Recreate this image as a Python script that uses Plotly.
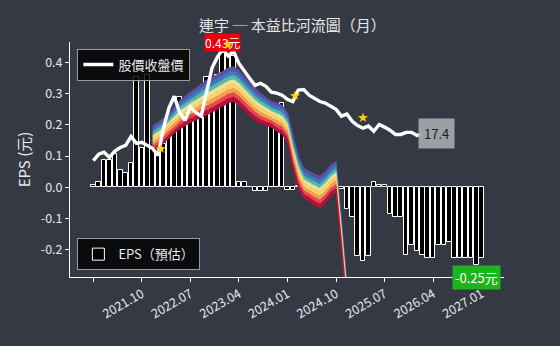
import plotly.graph_objects as go

# ---------------- data ----------------
months = [f"{y}.{m:02d}" for y in range(2021, 2028) for m in range(1, 13)][:73]  # 2021.01 .. 2027.01

eps = [0.008, 0.018, 0.086, 0.086, 0.108, 0.056, 0.047, 0.079, 0.355, 0.127,
       0.36, 0.127, 0.12, 0.14, 0.16, 0.19, 0.29, 0.26, 0.25, 0.27,
       0.29, 0.355, 0.31, 0.36, 0.43, 0.425, 0.42, 0.016, 0.016, 0.002,
       -0.011, -0.013, -0.013, 0.258, 0.247, 0.27, -0.01, -0.01, 0.004, 0.004,
       0.003, 0.004, 0.004, 0.008, 0.004, 0.004, -0.004, -0.07, -0.095, -0.22,
       -0.237, -0.22, 0.016, 0.008, 0.008, -0.086, -0.095, -0.095, -0.217, -0.185,
       -0.204, -0.217, -0.228, -0.228, -0.185, -0.185, -0.175, -0.228, -0.228, -0.228,
       -0.228, -0.25, -0.228]

price = [12.3, 13.5, 13.9, 12.9, 14.1, 14.8, 15.2, 16.9, 15.6, 15.8,
         15.2, 14.6, 13.3, 18.5, 22.3, 24.6, 21.5, 20.0, 22.5, 21.5,
         20.8, 25.8, 30.0, 32.1, 33.6, 32.3, 33.2, 30.9, 29.4, 28.0,
         26.7, 27.1, 26.5, 25.4, 25.2, 24.8, 24.0, 23.6, 25.8, 25.9,
         24.8, 24.2, 23.6, 23.3, 22.7, 22.1, 20.8, 21.2, 19.8, 19.0,
         18.5, 18.9, 17.9, 19.2, 18.7, 18.1, 17.3, 17.3, 17.7, 17.7,
         17.1, 17.4]

river_start = 11  # month index where the PE river begins
river_top = [18.9, 19.6, 20.4, 21.3, 22.5, 23.8, 24.6, 25.4, 26.1, 26.9,
             27.7, 28.2, 28.8, 29.4, 30.0, 30.3, 29.6, 28.4, 27.3, 26.1,
             25.2, 24.4, 23.6, 23.3, 22.9, 21.5, 17.1, 13.3, 10.8, 10.2,
             9.7, 9.3, 10.2, 11.4, 12.2, 1.2, -10.6]
river_bottom = [13.9, 14.6, 15.6, 16.6, 17.5, 18.3, 19.0, 19.6, 20.0, 20.6,
                21.0, 21.5, 22.1, 22.7, 23.3, 23.6, 22.9, 21.9, 20.8, 20.0,
                19.4, 19.0, 18.7, 17.9, 17.3, 15.8, 10.8, 7.0, 5.1, 4.5,
                3.7, 3.2, 4.1, 5.5, 6.2, -4.5, -16.4]
band_colors = ["#5e4fa2", "#3a7cc0", "#56b8ad", "#e8e49a",
               "#fdd36a", "#f9a04e", "#e8474f", "#b3123f"]

star_x = [12.46, 24.88, 37.39, 50.06]
star_y = [14.6, 34.6, 24.8, 20.5]

tick_labels = ["2021.01", "2021.10", "2022.07", "2023.04", "2024.01",
               "2024.10", "2025.07", "2026.04", "2027.01"]
shown_labels = ["", "2021.10", "2022.07", "2023.04", "2024.01",
                "2024.10", "2025.07", "2026.04", "2027.01"]
y_ticks = [-0.2, -0.1, 0.0, 0.1, 0.2, 0.3, 0.4]

# ---------------- figure ----------------
BG = "#343943"
FONT = "Noto Sans CJK TC, Noto Sans, DejaVu Sans, sans-serif"
TXT = "#e8e8e8"
x_all = list(range(len(months)))

fig = go.Figure()

fig.add_trace(go.Bar(
    x=x_all, y=eps, name="EPS（預估）", width=0.85,
    marker=dict(color="black", line=dict(color="white", width=1)),
    legend="legend2", yaxis="y"))

# river bands (lines from top to bottom at equal fractions)
rx = list(range(river_start, river_start + len(river_top)))
nb = len(band_colors)
for k in range(nb + 1):
    f = k / nb
    yy = [t - (t - b) * f for t, b in zip(river_top, river_bottom)]
    fig.add_trace(go.Scatter(
        x=rx, y=yy, mode="lines", yaxis="y2",
        line=dict(color=band_colors[min(k, nb - 1)], width=0.8),
        fill=None if k == 0 else "tonexty",
        fillcolor=None if k == 0 else band_colors[k - 1],
        opacity=0.82, showlegend=False, hoverinfo="skip"))

fig.add_trace(go.Scatter(
    x=x_all[:len(price)], y=price, mode="lines", name="股價收盤價",
    line=dict(color="white", width=3.4), yaxis="y2", legend="legend"))

# max / min EPS labels
imax = max(range(len(eps)), key=lambda i: eps[i])
imin = min(range(len(eps)), key=lambda i: eps[i])
fig.add_annotation(x=imax, y=eps[imax], xref="x", yref="y", text=f"{eps[imax]:.2f}元",
                   showarrow=False, yanchor="bottom", yshift=1, xshift=0,
                   bgcolor="#e8000b", borderpad=0,
                   font=dict(color="white", size=12, family=FONT))
fig.add_annotation(x=imin, y=eps[imin], xref="x", yref="y", text=f"{eps[imin]:.2f}元",
                   showarrow=False, yanchor="top", yshift=0,
                   bgcolor="#1cb51c", borderpad=2,
                   font=dict(color="white", size=13, family=FONT))
# last price label
fig.add_annotation(x=len(price) - 1, y=price[-1], xref="x", yref="y2",
                   text=f"{price[-1]:.1f}", showarrow=False, xanchor="left", xshift=-4,
                   bgcolor="rgba(165,168,172,0.92)", borderpad=5,
                   font=dict(color="#1e1e1e", size=13, family=FONT))

# stars (drawn after the labels so they sit on top, as in the reference)
for sx, sy in zip(star_x, star_y):
    fig.add_annotation(x=sx, y=sy, xref="x", yref="y2", text="★", showarrow=False,
                       font=dict(color="#ffd400", size=13, family="DejaVu Sans"))

fig.update_layout(
    width=560, height=346,
    margin=dict(l=70, r=56, t=42, b=69),
    paper_bgcolor=BG, plot_bgcolor=BG,
    font=dict(family=FONT, color=TXT, size=12),
    title=dict(text="連宇 ─ 本益比河流圖（月）", x=(70 + 217) / 560, xref="paper", xanchor="center",
               y=1 - 26 / 346, yanchor="middle",
               font=dict(size=15, color=TXT, family=FONT)),
    bargap=0, showlegend=True,
    xaxis=dict(range=[-4.32, 76.14], tickvals=[months.index(t) for t in tick_labels],
               ticktext=shown_labels, tickangle=-30, showgrid=False, zeroline=False,
               showline=True, linecolor="white", linewidth=1, ticks="outside",
               ticklen=4, tickcolor="white", tickfont=dict(size=12.5, color=TXT)),
    yaxis=dict(range=[-0.2875, 0.4657], tickvals=y_ticks,
               ticktext=[f"{v:.1f}" for v in y_ticks], showgrid=False, zeroline=False,
               showline=True, linecolor="white", linewidth=1, ticks="outside",
               ticklen=4, tickcolor="white", tickfont=dict(size=12.5, color=TXT),
               title=dict(text="EPS (元)", font=dict(size=15, color=TXT), standoff=6)),
    yaxis2=dict(range=[-10, 35], overlaying="y", visible=False),
    legend=dict(x=0.017, y=0.972, xanchor="left", yanchor="top",
                bgcolor="rgba(0,0,0,0.8)", bordercolor="#9a9a9a", borderwidth=1,
                font=dict(size=13, color=TXT)),
    legend2=dict(x=0.017, y=0.029, xanchor="left", yanchor="bottom",
                 bgcolor="rgba(0,0,0,0.8)", bordercolor="#9a9a9a", borderwidth=1,
                 font=dict(size=13, color=TXT)),
)

fig.write_html("out.html")
